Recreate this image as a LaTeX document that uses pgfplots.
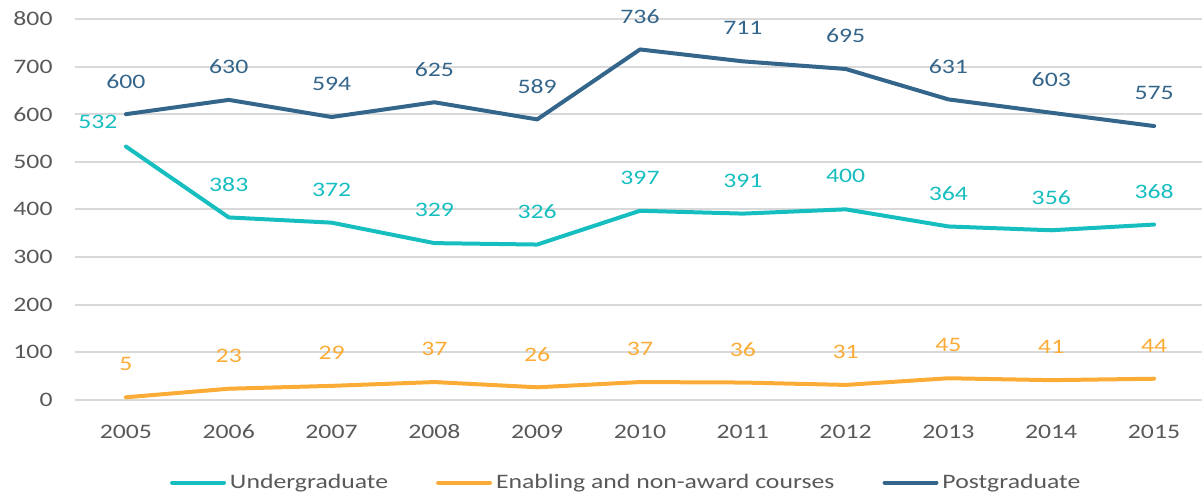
\documentclass[border=0pt]{standalone}
\usepackage{fontspec}
\setmainfont{Carlito}[FakeStretch=1.25]
\usepackage{pgfplots}
\pgfplotsset{compat=1.18}
\definecolor{ug}{RGB}{23,190,192}
\definecolor{en}{RGB}{251,172,55}
\definecolor{pg}{RGB}{52,101,139}
\definecolor{gridc}{RGB}{217,217,217}
\definecolor{txt}{RGB}{89,89,89}
\begin{document}
\begin{tikzpicture}[font=\fontsize{10.3}{12}\selectfont]
\begin{axis}[
  at={(0,0)}, anchor=south west,
  scale only axis, width=564pt, height=190.5pt,
  xmin=2004.504, xmax=2015.466, ymin=0, ymax=800,
  ytick={0,100,...,800}, xtick={2005,...,2015},
  /pgf/number format/1000 sep={},
  /pgf/number format/assume math mode=true,
  axis line style={draw=none},
  major tick length=0pt,
  ymajorgrids, grid style={gridc, line width=1pt},
  tick label style={font=\fontsize{10.3}{12}\selectfont, text=txt, inner sep=0pt},
  xticklabel style={anchor=center, yshift=-16pt},
  yticklabel style={anchor=east, xshift=-11pt},
  clip=false,
  every axis plot/.append style={line width=2pt, line join=round, line cap=round},
  nodes near coords style={anchor=center, yshift=16.5pt, inner sep=0pt, font=\fontsize{10.3}{12}\selectfont},
  legend style={at={(0.49,-0.218)}, anchor=center, draw=none, fill=none,
    font=\fontsize{10.3}{12}\selectfont, text=txt, legend columns=3,
    /tikz/every even column/.append style={column sep=22pt},
    inner sep=0pt},
  legend cell align=left,
  legend image code/.code={\draw[#1, line width=2pt, line cap=round] (0,0) -- (26pt,0);},
]
\addplot[ug, nodes near coords, point meta=explicit symbolic, every node near coord/.append style={text=ug}]
  coordinates {(2005,532) [] (2006,383) [383] (2007,372) [372] (2008,329) [329] (2009,326) [326]
  (2010,397) [397] (2011,391) [391] (2012,400) [400] (2013,364) [364] (2014,356) [356] (2015,368) [368]};
\addlegendentry{Undergraduate}
\addplot[en, nodes near coords, every node near coord/.append style={text=en}]
  coordinates {(2005,5) (2006,23) (2007,29) (2008,37) (2009,26) (2010,37) (2011,36) (2012,31) (2013,45) (2014,41) (2015,44)};
\addlegendentry{Enabling and non-award courses}
\addplot[pg, nodes near coords, every node near coord/.append style={text=pg}]
  coordinates {(2005,600) (2006,630) (2007,594) (2008,625) (2009,589) (2010,736) (2011,711) (2012,695) (2013,631) (2014,603) (2015,575)};
\addlegendentry{Postgraduate}
\addplot[draw=none, forget plot, nodes near coords,
  nodes near coords style={yshift=-4pt, xshift=-14pt, text=ug}]
  coordinates {(2005,532)};
\end{axis}
\path[use as bounding box] (-37.5pt,-49pt) rectangle (564pt,200pt);
\end{tikzpicture}
\end{document}
